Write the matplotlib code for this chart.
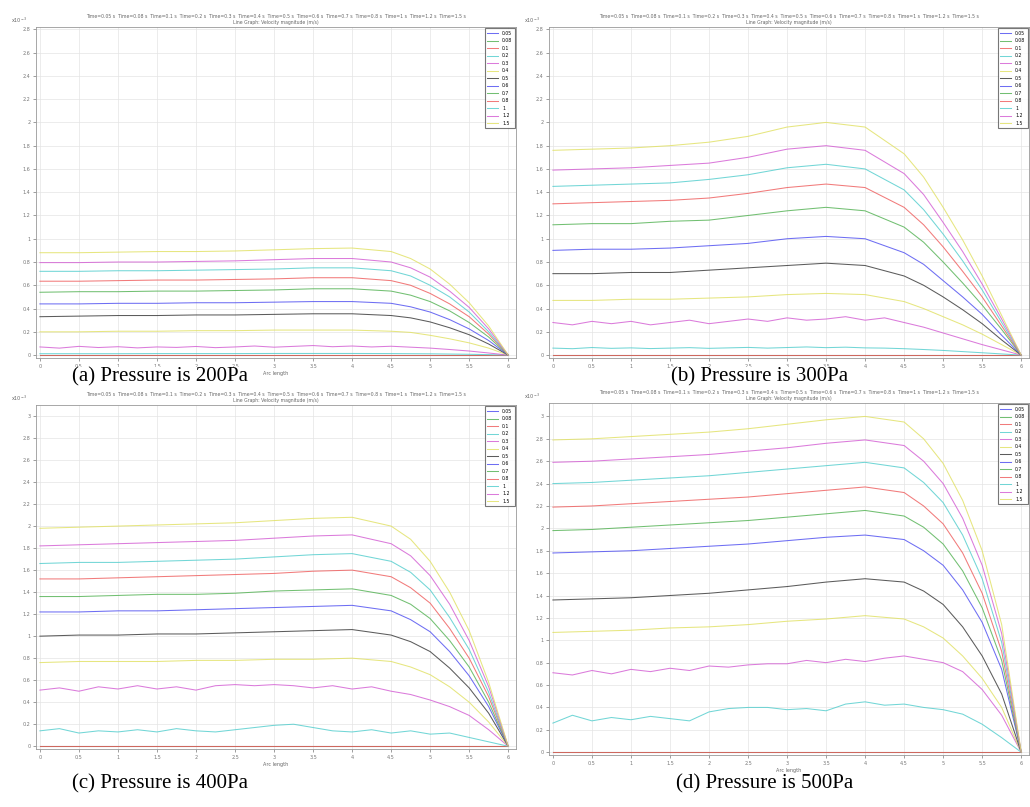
import matplotlib
matplotlib.use("Agg")
import matplotlib.pyplot as plt
import numpy as np

# Datos (unidades x10^-3)
x_suave = [0, 0.5, 1, 1.5, 2, 2.5, 3, 3.5, 4, 4.5, 4.75, 5, 5.25, 5.5, 5.75, 6]
x_ondulado = [0, 0.25, 0.5, 0.75, 1, 1.25, 1.5, 1.75, 2, 2.25, 2.5, 2.75, 3,
              3.25, 3.5, 3.75, 4, 4.25, 4.5, 4.75, 5, 5.25, 5.5, 5.75, 6]
x_cero = [0, 6]

etiquetas_leyenda = ['0.05', '0.08', '0.1', '0.2', '0.3', '0.4', '0.5',
                     '0.6', '0.7', '0.8', '1', '1.2', '1.5']
colores = ['#4a4af0', '#4fb04f', '#ee5a5a', '#4fcccc', '#d25ad2', '#e0e060', '#333333',
           '#4a4af0', '#4fb04f', '#ee5a5a', '#4fcccc', '#d25ad2', '#e0e060']

# (a) 200 Pa
p200 = [
    [0, 0],
    [0, 0],
    [0, 0],
    [0.012, 0.012, 0.012, 0.013, 0.013, 0.013, 0.014, 0.014, 0.014, 0.013, 0.012, 0.011, 0.009, 0.007, 0.004, 0],
    [0.07, 0.06, 0.075, 0.065, 0.072, 0.062, 0.07, 0.066, 0.074, 0.064, 0.07, 0.078, 0.068,
     0.075, 0.082, 0.072, 0.078, 0.07, 0.076, 0.068, 0.06, 0.048, 0.035, 0.018, 0],
    [0.2, 0.2, 0.205, 0.205, 0.21, 0.21, 0.215, 0.215, 0.215, 0.205, 0.195, 0.17, 0.14, 0.105, 0.06, 0],
    [0.33, 0.335, 0.34, 0.34, 0.345, 0.345, 0.35, 0.355, 0.355, 0.34, 0.32, 0.285, 0.235, 0.175, 0.095, 0],
    [0.44, 0.44, 0.445, 0.445, 0.45, 0.45, 0.455, 0.46, 0.46, 0.445, 0.415, 0.37, 0.305, 0.225, 0.125, 0],
    [0.54, 0.545, 0.545, 0.55, 0.55, 0.555, 0.56, 0.57, 0.57, 0.55, 0.515, 0.46, 0.38, 0.28, 0.155, 0],
    [0.635, 0.635, 0.64, 0.645, 0.645, 0.65, 0.655, 0.665, 0.665, 0.64, 0.60, 0.53, 0.44, 0.33, 0.18, 0],
    [0.72, 0.72, 0.725, 0.725, 0.73, 0.735, 0.74, 0.75, 0.75, 0.725, 0.68, 0.60, 0.50, 0.37, 0.20, 0],
    [0.795, 0.795, 0.80, 0.80, 0.805, 0.81, 0.82, 0.83, 0.83, 0.80, 0.75, 0.67, 0.55, 0.41, 0.225, 0],
    [0.88, 0.88, 0.885, 0.89, 0.89, 0.895, 0.905, 0.915, 0.92, 0.89, 0.83, 0.74, 0.61, 0.45, 0.25, 0],
]

# (b) 300 Pa
p300 = [
    [0, 0],
    [0, 0],
    [0, 0],
    [0.06, 0.055, 0.065, 0.058, 0.062, 0.056, 0.06, 0.064, 0.058, 0.062, 0.066, 0.06, 0.065,
     0.07, 0.064, 0.068, 0.062, 0.06, 0.055, 0.048, 0.04, 0.03, 0.02, 0.01, 0],
    [0.28, 0.26, 0.29, 0.27, 0.29, 0.26, 0.28, 0.30, 0.27, 0.29, 0.31, 0.29, 0.32,
     0.30, 0.31, 0.33, 0.30, 0.32, 0.28, 0.24, 0.19, 0.14, 0.09, 0.045, 0],
    [0.47, 0.47, 0.48, 0.48, 0.49, 0.50, 0.52, 0.53, 0.52, 0.46, 0.40, 0.33, 0.26, 0.18, 0.09, 0],
    [0.70, 0.70, 0.71, 0.71, 0.73, 0.75, 0.77, 0.79, 0.77, 0.68, 0.60, 0.50, 0.39, 0.27, 0.13, 0],
    [0.90, 0.91, 0.91, 0.92, 0.94, 0.96, 1.00, 1.02, 1.00, 0.88, 0.78, 0.64, 0.50, 0.35, 0.17, 0],
    [1.12, 1.13, 1.13, 1.15, 1.16, 1.20, 1.24, 1.27, 1.24, 1.10, 0.97, 0.80, 0.62, 0.43, 0.22, 0],
    [1.30, 1.31, 1.32, 1.33, 1.35, 1.39, 1.44, 1.47, 1.44, 1.27, 1.12, 0.93, 0.72, 0.50, 0.25, 0],
    [1.45, 1.46, 1.47, 1.48, 1.51, 1.55, 1.61, 1.64, 1.60, 1.42, 1.25, 1.04, 0.81, 0.56, 0.28, 0],
    [1.59, 1.60, 1.61, 1.63, 1.65, 1.70, 1.77, 1.80, 1.76, 1.56, 1.38, 1.14, 0.89, 0.61, 0.31, 0],
    [1.76, 1.77, 1.78, 1.80, 1.83, 1.88, 1.96, 2.00, 1.96, 1.73, 1.53, 1.27, 0.99, 0.68, 0.34, 0],
]

# (c) 400 Pa
p400 = [
    [0, 0],
    [0, 0],
    [0, 0],
    [0.14, 0.16, 0.12, 0.14, 0.13, 0.15, 0.13, 0.16, 0.14, 0.13, 0.15, 0.17, 0.19,
     0.20, 0.17, 0.14, 0.13, 0.15, 0.12, 0.14, 0.11, 0.12, 0.08, 0.04, 0],
    [0.51, 0.53, 0.50, 0.54, 0.52, 0.55, 0.52, 0.54, 0.51, 0.55, 0.56, 0.55, 0.56,
     0.55, 0.53, 0.55, 0.52, 0.54, 0.50, 0.47, 0.42, 0.36, 0.28, 0.15, 0],
    [0.76, 0.77, 0.77, 0.77, 0.78, 0.78, 0.79, 0.79, 0.80, 0.77, 0.72, 0.65, 0.54, 0.40, 0.22, 0],
    [1.00, 1.01, 1.01, 1.02, 1.02, 1.03, 1.04, 1.05, 1.06, 1.01, 0.95, 0.86, 0.71, 0.53, 0.30, 0],
    [1.22, 1.22, 1.23, 1.23, 1.24, 1.25, 1.26, 1.27, 1.28, 1.23, 1.15, 1.04, 0.86, 0.64, 0.36, 0],
    [1.36, 1.36, 1.37, 1.38, 1.38, 1.39, 1.41, 1.42, 1.43, 1.37, 1.29, 1.16, 0.96, 0.72, 0.40, 0],
    [1.52, 1.52, 1.53, 1.54, 1.55, 1.56, 1.57, 1.59, 1.60, 1.54, 1.44, 1.30, 1.07, 0.80, 0.45, 0],
    [1.66, 1.67, 1.67, 1.68, 1.69, 1.70, 1.72, 1.74, 1.75, 1.68, 1.58, 1.42, 1.17, 0.88, 0.49, 0],
    [1.82, 1.83, 1.84, 1.85, 1.86, 1.87, 1.89, 1.91, 1.92, 1.84, 1.73, 1.55, 1.29, 0.96, 0.54, 0],
    [1.98, 1.99, 2.00, 2.01, 2.02, 2.03, 2.05, 2.07, 2.08, 2.00, 1.88, 1.68, 1.40, 1.05, 0.58, 0],
]

# (d) 500 Pa
p500 = [
    [0, 0],
    [0, 0],
    [0, 0],
    [0.26, 0.33, 0.28, 0.31, 0.29, 0.32, 0.30, 0.28, 0.36, 0.39, 0.40, 0.40, 0.38,
     0.39, 0.37, 0.43, 0.45, 0.42, 0.43, 0.40, 0.38, 0.34, 0.25, 0.13, 0],
    [0.71, 0.69, 0.73, 0.70, 0.74, 0.72, 0.75, 0.73, 0.77, 0.76, 0.78, 0.79, 0.79,
     0.82, 0.80, 0.83, 0.81, 0.84, 0.86, 0.83, 0.80, 0.72, 0.56, 0.33, 0],
    [1.07, 1.08, 1.09, 1.11, 1.12, 1.14, 1.17, 1.19, 1.22, 1.19, 1.12, 1.02, 0.86, 0.66, 0.40, 0],
    [1.36, 1.37, 1.38, 1.40, 1.42, 1.45, 1.48, 1.52, 1.55, 1.52, 1.44, 1.32, 1.12, 0.86, 0.52, 0],
    [1.78, 1.79, 1.80, 1.82, 1.84, 1.86, 1.89, 1.92, 1.94, 1.90, 1.80, 1.67, 1.45, 1.16, 0.74, 0],
    [1.98, 1.99, 2.01, 2.03, 2.05, 2.07, 2.10, 2.13, 2.16, 2.11, 2.01, 1.86, 1.62, 1.29, 0.82, 0],
    [2.19, 2.20, 2.22, 2.24, 2.26, 2.28, 2.31, 2.34, 2.37, 2.32, 2.20, 2.04, 1.78, 1.42, 0.90, 0],
    [2.40, 2.41, 2.43, 2.45, 2.47, 2.50, 2.53, 2.56, 2.59, 2.54, 2.41, 2.23, 1.94, 1.55, 0.98, 0],
    [2.59, 2.60, 2.62, 2.64, 2.66, 2.69, 2.72, 2.76, 2.79, 2.74, 2.60, 2.40, 2.09, 1.67, 1.06, 0],
    [2.79, 2.80, 2.82, 2.84, 2.86, 2.89, 2.93, 2.97, 3.00, 2.95, 2.80, 2.58, 2.25, 1.80, 1.14, 0],
]

titulo_1 = "  ".join("Time=" + v + " s" for v in etiquetas_leyenda)
titulo_2 = "Line Graph: Velocity magnitude (m/s)"

# paneles: datos, caja en pixeles (izq, arriba, ancho, alto), limite y, ticks y, pie
paneles = [
    (p200, (36, 27, 480, 331), 2.82, np.arange(0, 2.81, 0.2), "(a) Pressure is 200Pa", (160, 377)),
    (p300, (549, 27, 480, 331), 2.82, np.arange(0, 2.81, 0.2), "(b) Pressure is 300Pa", (760, 377)),
    (p400, (36, 405, 480, 344), 3.1, np.arange(0, 3.01, 0.2), "(c) Pressure is 400Pa", (160, 784)),
    (p500, (549, 403, 480, 352), 3.12, np.arange(0, 3.01, 0.2), "(d) Pressure is 500Pa", (765, 784)),
]

W, H = 1030, 807
fig = plt.figure(figsize=(W / 100, H / 100), dpi=100)

for datos, caja, ymax, yticks, pie, pos_pie in paneles:
    izq, arriba, ancho, alto = caja
    ax = fig.add_axes([izq / W, 1 - (arriba + alto) / H, ancho / W, alto / H])
    for i, serie in enumerate(datos):
        if len(serie) == len(x_suave):
            xs = x_suave
        elif len(serie) == len(x_ondulado):
            xs = x_ondulado
        else:
            xs = x_cero
        ax.plot(xs, serie, color=colores[i], lw=0.75, alpha=0.8, label=etiquetas_leyenda[i])
    ax.set_xlim(-0.05, 6.1)
    ax.set_ylim(-0.025, ymax)
    ax.set_xticks(np.arange(0, 6.01, 0.5))
    ax.set_xticklabels(["%g" % v for v in np.arange(0, 6.01, 0.5)])
    ax.set_yticks(yticks)
    ax.set_yticklabels(["%g" % round(v, 1) for v in yticks])
    ax.tick_params(labelsize=3.5, length=2, width=0.5, colors='#777777', pad=2)
    ax.grid(True, color='#e4e4e4', lw=0.5)
    for lado in ax.spines.values():
        lado.set_color('#999999')
        lado.set_linewidth(0.6)
    ax.set_xlabel("Arc length", fontsize=3.5, color='#666666', labelpad=2)
    ax.text(-0.02, 1.005, "x10$^{-3}$", transform=ax.transAxes, fontsize=3.5,
            color='#666666', ha='right', va='bottom')
    ax.set_title(titulo_1 + "\n" + titulo_2, fontsize=3.3, color='#666666', pad=2)
    leg = ax.legend(loc='upper right', fontsize=3.3, frameon=True, fancybox=False,
                    handlelength=2.5, labelspacing=0.55, borderpad=0.5,
                    borderaxespad=0.3)
    leg.get_frame().set_edgecolor('#555555')
    leg.get_frame().set_linewidth(0.8)
    fig.text(pos_pie[0] / W, 1 - pos_pie[1] / H, pie, fontsize=15,
             family='Liberation Serif', ha='center', va='center',
             bbox=dict(facecolor='white', edgecolor='none', pad=0.5))

fig.savefig("out.png", dpi=100)
